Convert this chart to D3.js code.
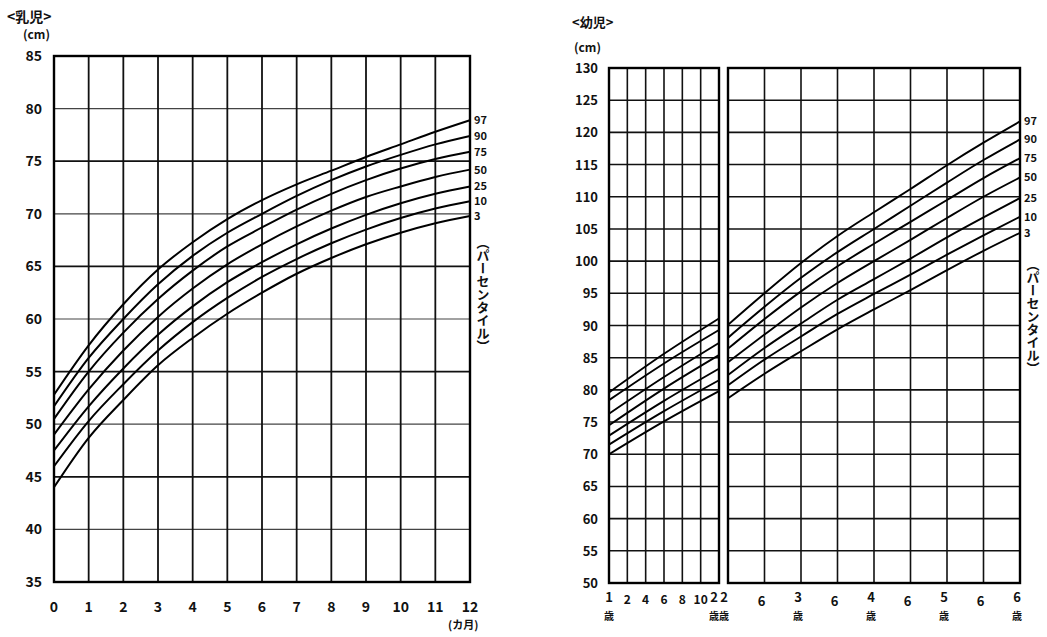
<!DOCTYPE html>
<html>
<head>
<meta charset="utf-8">
<script src="https://cdn.jsdelivr.net/npm/d3@7"></script>
<style>
  body { margin: 0; background: #fff; }
  svg text { font-family: "Noto Sans CJK JP", "Noto Sans", sans-serif; font-weight: bold; fill: #111; }
</style>
</head>
<body>
<div id="vis"></div>
<script>
// percentiles drawn on both charts
var percentiles = [3, 10, 25, 50, 75, 90, 97];

// <乳児> 0-12 months, height in cm
var infantMonths = [0, 1, 2, 3, 4, 5, 6, 7, 8, 9, 10, 11, 12];
var infantP3  = [44.0, 48.7, 52.3, 55.6, 58.2, 60.5, 62.5, 64.3, 65.8, 67.1, 68.2, 69.1, 69.8];
var infantP10 = [46.0, 50.3, 53.8, 57.0, 59.7, 62.0, 64.0, 65.7, 67.2, 68.5, 69.6, 70.5, 71.2];
var infantP25 = [47.5, 51.7, 55.3, 58.5, 61.2, 63.5, 65.4, 67.1, 68.6, 69.9, 71.0, 71.9, 72.6];
var infantP50 = [49.0, 53.3, 57.0, 60.2, 62.9, 65.2, 67.1, 68.8, 70.3, 71.6, 72.6, 73.5, 74.2];
var infantP75 = [50.5, 55.0, 58.7, 61.9, 64.6, 66.9, 68.7, 70.4, 71.9, 73.2, 74.3, 75.2, 75.9];
var infantP90 = [51.7, 56.3, 60.0, 63.3, 66.0, 68.2, 70.0, 71.7, 73.2, 74.5, 75.6, 76.6, 77.4];
var infantP97 = [52.8, 57.5, 61.4, 64.7, 67.3, 69.5, 71.3, 72.8, 74.1, 75.4, 76.6, 77.8, 78.9];

// <幼児> first panel: 12-24 months
var toddlerMonths = [12, 18, 24];
var toddlerP3  = [70.0, 75.1, 79.8];
var toddlerP10 = [71.5, 76.7, 81.5];
var toddlerP25 = [72.9, 78.3, 83.3];
var toddlerP50 = [74.5, 80.2, 85.4];
var toddlerP75 = [76.3, 82.0, 87.3];
var toddlerP90 = [78.4, 84.1, 89.3];
var toddlerP97 = [79.6, 85.6, 91.1];

// <幼児> second panel: 2-6 years
var childYears = [2, 2.5, 3, 3.5, 4, 4.5, 5, 5.5, 6];
var childP3  = [78.7, 82.5, 86.0, 89.4, 92.5, 95.5, 98.6, 101.6, 104.4];
var childP10 = [80.7, 84.7, 88.3, 91.8, 94.9, 97.9, 101.0, 104.0, 106.9];
var childP25 = [82.3, 86.5, 90.3, 94.0, 97.2, 100.4, 103.7, 106.8, 109.8];
var childP50 = [84.3, 88.6, 92.8, 96.6, 100.0, 103.3, 106.7, 110.0, 113.0];
var childP75 = [86.4, 91.0, 95.3, 99.2, 102.7, 106.1, 109.5, 112.9, 116.0];
var childP90 = [88.1, 92.9, 97.4, 101.4, 105.0, 108.6, 112.2, 115.7, 118.9];
var childP97 = [90.1, 95.0, 99.7, 103.9, 107.6, 111.2, 114.9, 118.4, 121.7];

// tick labels
var infantYTicks = [35, 40, 45, 50, 55, 60, 65, 70, 75, 80, 85];
var infantXTicks = [0, 1, 2, 3, 4, 5, 6, 7, 8, 9, 10, 11, 12];
var childYTicks = [50, 55, 60, 65, 70, 75, 80, 85, 90, 95, 100, 105, 110, 115, 120, 125, 130];
var toddlerXTicks = [14, 16, 18, 20, 22];
var toddlerXLabels = ["2", "4", "6", "8", "10"];
var childXTicks = [2.5, 3, 3.5, 4, 4.5, 5, 5.5, 6];
var childXLabels = ["6", "3", "6", "4", "6", "5", "6", "6"];

var w = 1047, h = 637;
var svg = d3.select("#vis").append("svg")
  .attr("width", w).attr("height", h);

// ---------- left chart ----------
var xL = d3.scaleLinear().domain([0, 12]).range([54, 470]);
var yL = d3.scaleLinear().domain([35, 85]).range([582, 56]);

var gL = svg.append("g");

gL.selectAll("line.h")
  .data(infantYTicks.slice(1, -1))
  .enter().append("line")
  .attr("x1", xL(0)).attr("x2", xL(12))
  .attr("y1", function(d){ return yL(d); })
  .attr("y2", function(d){ return yL(d); })
  .attr("stroke", function(d){ return d % 10 == 0 ? "#444" : "#111"; })
  .attr("stroke-width", function(d){ return d % 10 == 0 ? 1.2 : 1.8; });

gL.selectAll("line.v")
  .data(infantXTicks.slice(1, -1))
  .enter().append("line")
  .attr("y1", yL(85)).attr("y2", yL(35))
  .attr("x1", function(d){ return xL(d); })
  .attr("x2", function(d){ return xL(d); })
  .attr("stroke", "#111")
  .attr("stroke-width", 1.8);

gL.append("rect")
  .attr("x", xL(0)).attr("y", yL(85))
  .attr("width", xL(12) - xL(0)).attr("height", yL(35) - yL(85))
  .attr("fill", "none").attr("stroke", "#000").attr("stroke-width", 2.4);

var infantSeries = [infantP3, infantP10, infantP25, infantP50, infantP75, infantP90, infantP97];
var lineL = d3.line()
  .x(function(d, i){ return xL(infantMonths[i]); })
  .y(function(d){ return yL(d); })
  .curve(d3.curveMonotoneX);

gL.selectAll("path.curve")
  .data(infantSeries)
  .enter().append("path")
  .attr("d", lineL)
  .attr("fill", "none").attr("stroke", "#000").attr("stroke-width", 2);

gL.selectAll("text.pl")
  .data(infantSeries)
  .enter().append("text")
  .attr("x", xL(12) + 4)
  .attr("y", function(d){ return yL(d[d.length - 1]) + 4; })
  .attr("font-size", 11)
  .text(function(d, i){ return percentiles[i]; });

gL.selectAll("text.yt")
  .data(infantYTicks)
  .enter().append("text")
  .attr("x", 42).attr("y", function(d){ return yL(d) + 5; })
  .attr("text-anchor", "end").attr("font-size", 14)
  .text(function(d){ return d; });

gL.selectAll("text.xt")
  .data(infantXTicks)
  .enter().append("text")
  .attr("x", function(d){ return xL(d); }).attr("y", 612)
  .attr("text-anchor", "middle").attr("font-size", 14)
  .text(function(d){ return d; });

gL.append("text").attr("x", 448).attr("y", 629).attr("font-size", 11).text("(カ月)");
gL.append("text").attr("x", 7).attr("y", 22).attr("font-size", 14).text("<乳児>");
gL.append("text").attr("x", 23).attr("y", 39).attr("font-size", 12).text("(cm)");
gL.append("text")
  .attr("x", 483).attr("y", 236)
  .attr("font-size", 13)
  .style("writing-mode", "vertical-rl")
  .text("（パーセンタイル）");

// ---------- right chart ----------
var yR = d3.scaleLinear().domain([50, 130]).range([583, 68]);
var xR1 = d3.scaleLinear().domain([12, 24]).range([609, 719]);
var xR2 = d3.scaleLinear().domain([2, 6]).range([728, 1020]);

var gR = svg.append("g");

[[xR1, 12, 24, toddlerXTicks], [xR2, 2, 6, [2.5, 3, 3.5, 4, 4.5, 5, 5.5]]].forEach(function(p){
  var sx = p[0];
  gR.selectAll(null)
    .data(childYTicks.slice(1, -1))
    .enter().append("line")
    .attr("x1", sx(p[1])).attr("x2", sx(p[2]))
    .attr("y1", function(d){ return yR(d); })
    .attr("y2", function(d){ return yR(d); })
    .attr("stroke", "#111").attr("stroke-width", 1.6);
  gR.selectAll(null)
    .data(p[3])
    .enter().append("line")
    .attr("y1", yR(130)).attr("y2", yR(50))
    .attr("x1", function(d){ return sx(d); })
    .attr("x2", function(d){ return sx(d); })
    .attr("stroke", "#111").attr("stroke-width", 1.6);
  gR.append("rect")
    .attr("x", sx(p[1])).attr("y", yR(130))
    .attr("width", sx(p[2]) - sx(p[1])).attr("height", yR(50) - yR(130))
    .attr("fill", "none").attr("stroke", "#000").attr("stroke-width", 2.4);
});

var toddlerSeries = [toddlerP3, toddlerP10, toddlerP25, toddlerP50, toddlerP75, toddlerP90, toddlerP97];
var childSeries = [childP3, childP10, childP25, childP50, childP75, childP90, childP97];

var lineR1 = d3.line()
  .x(function(d, i){ return xR1(toddlerMonths[i]); })
  .y(function(d){ return yR(d); })
  .curve(d3.curveMonotoneX);
var lineR2 = d3.line()
  .x(function(d, i){ return xR2(childYears[i]); })
  .y(function(d){ return yR(d); })
  .curve(d3.curveMonotoneX);

gR.selectAll("path.c1")
  .data(toddlerSeries)
  .enter().append("path")
  .attr("d", lineR1)
  .attr("fill", "none").attr("stroke", "#000").attr("stroke-width", 1.9);

gR.selectAll("path.c2")
  .data(childSeries)
  .enter().append("path")
  .attr("d", lineR2)
  .attr("fill", "none").attr("stroke", "#000").attr("stroke-width", 1.9);

gR.selectAll("text.pr")
  .data(childSeries)
  .enter().append("text")
  .attr("x", xR2(6) + 4)
  .attr("y", function(d){ return yR(d[d.length - 1]) + 4; })
  .attr("font-size", 11)
  .text(function(d, i){ return percentiles[i]; });

gR.selectAll("text.yt")
  .data(childYTicks)
  .enter().append("text")
  .attr("x", 598).attr("y", function(d){ return yR(d) + 5; })
  .attr("text-anchor", "end").attr("font-size", 13)
  .text(function(d){ return d; });

gR.selectAll("text.xt1")
  .data(toddlerXTicks)
  .enter().append("text")
  .attr("x", function(d){ return xR1(d); }).attr("y", 604)
  .attr("text-anchor", "middle").attr("font-size", 12)
  .text(function(d, i){ return toddlerXLabels[i]; });

gR.selectAll("text.xt2")
  .data(childXTicks)
  .enter().append("text")
  .attr("x", function(d){ return xR2(d) - 3; }).attr("y", function(d){ return d % 1 == 0 ? 602 : 606; })
  .attr("text-anchor", "middle").attr("font-size", 13)
  .text(function(d, i){ return childXLabels[i]; });

// year labels with 歳 underneath
var yearMarks = [[xR1(12), "1"], [xR1(24) - 5, "2"], [xR2(2) - 4, "2"]];
childXTicks.forEach(function(d){ if (d % 1 == 0) yearMarks.push([xR2(d) - 3, null]); });
yearMarks.forEach(function(m){
  if (m[1]) {
    gR.append("text").attr("x", m[0]).attr("y", 602)
      .attr("text-anchor", "middle").attr("font-size", 13).text(m[1]);
  }
  gR.append("text").attr("x", m[0]).attr("y", 620)
    .attr("text-anchor", "middle").attr("font-size", 10).text("歳");
});

gR.append("text").attr("x", 572).attr("y", 27).attr("font-size", 13).text("<幼児>");
gR.append("text").attr("x", 574).attr("y", 52).attr("font-size", 12).text("(cm)");
gR.append("text")
  .attr("x", 1033).attr("y", 258)
  .attr("font-size", 13)
  .style("writing-mode", "vertical-rl")
  .text("（パーセンタイル）");
</script>
</body>
</html>
